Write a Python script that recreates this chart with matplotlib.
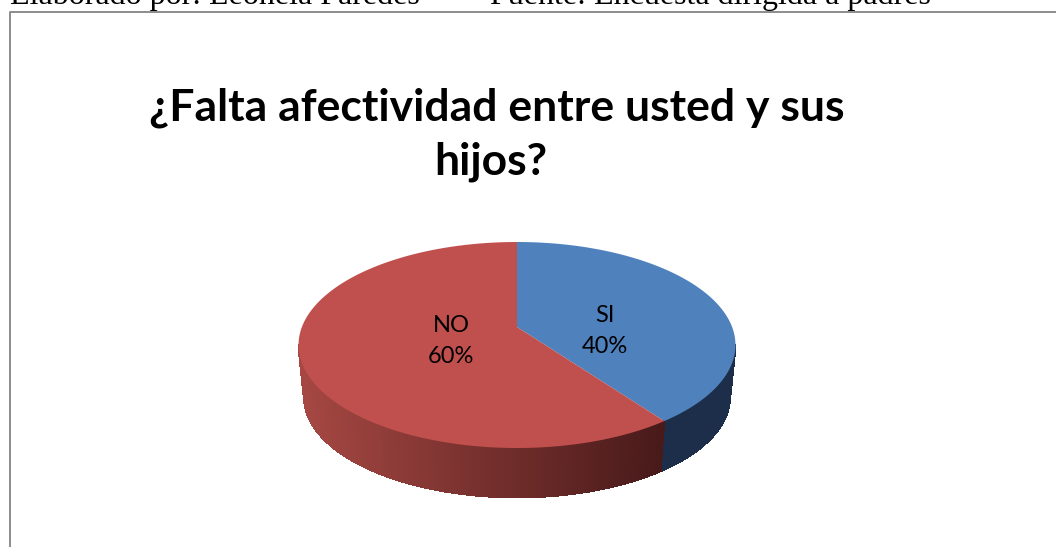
import numpy as np
import matplotlib
matplotlib.use('Agg')
import matplotlib.pyplot as plt

title_lines = ['¿Falta afectividad entre usted y sus', 'hijos?']
header_left = 'Elaborado por: Leonela Paredes'
header_right = 'Fuente: Encuesta dirigida a padres'
categories = ['SI', 'NO']
values = [40, 60]
top_colors = ['#4F81BD', '#C0504D']
side_dark = [(0.11, 0.18, 0.29), (0.28, 0.10, 0.10)]
side_light = [(0.12, 0.20, 0.31), (0.65, 0.28, 0.26)]

# the pie is tilted, so the apex sits above the middle of the ellipse
K = 0.1748
A = 215.1
B = 99.85
CX = 517
APEX_Y = 327
RIM_SCALE = 0.975
DEPTH = 52


def top_rim(theta):
    u = np.sin(theta)
    v = np.cos(theta)
    w = 1 + K * v
    return CX + A * u / w, APEX_Y - B * v / w


def low_rim(theta):
    x, y = top_rim(theta)
    return CX + (x - CX) * RIM_SCALE, 345 + (y - 345) * RIM_SCALE + DEPTH


fig = plt.figure(figsize=(10.56, 5.47), dpi=100)
ax = fig.add_axes([0, 0, 1, 1])
ax.set_xlim(0, 1056)
ax.set_ylim(547, 0)
ax.axis('off')

# frame, only top and left are in the crop
ax.plot([9.5, 9.5, 1056], [547, 12, 12], color='#8c8c8c', lw=1.4)

fractions = np.cumsum([0] + values) / sum(values)
starts = fractions[:-1] * 2 * np.pi
ends = fractions[1:] * 2 * np.pi

# side wall first, drawn as thin strips to get the shading
for i in range(len(values)):
    angles = np.linspace(starts[i], ends[i], int(values[i] * 6) + 2)
    for a, b in zip(angles[:-1], angles[1:]):
        # back of the wall is hidden anyway
        if np.cos((a + b) / 2) > -K:
            continue
        xa, ya = top_rim(a)
        xb, yb = top_rim(b)
        xc, yc = low_rim(b)
        xd, yd = low_rim(a)
        mix = np.clip((max(xa, xb) - 300) / 365, 0, 1)
        col = [side_light[i][k] * (1 - mix) + side_dark[i][k] * mix for k in range(3)]
        ax.fill([xa, xb, xc, xd], [ya, yb, yc, yd], color=col, lw=0.7,
                antialiased=False, zorder=2)

# top face
for i in range(len(values)):
    angles = np.linspace(starts[i], ends[i], 300)
    xs, ys = top_rim(angles)
    ax.fill(np.r_[CX, xs], np.r_[APEX_Y, ys], color=top_colors[i], lw=0, zorder=3)

# data labels
label_pos = [(605, 331), (451, 341)]
for i in range(len(values)):
    ax.text(label_pos[i][0], label_pos[i][1], categories[i] + '\n' + str(values[i]) + '%',
            ha='center', va='center', fontsize=17, family='Lato', color='black',
            linespacing=1.55, zorder=4)

ax.text(497, 120, title_lines[0], ha='center', va='baseline', fontsize=32, family='Lato',
        fontweight='bold', color='black')
ax.text(491, 175, title_lines[1], ha='center', va='baseline', fontsize=32, family='Lato',
        fontweight='bold', color='black')

ax.text(10, 4, header_left, ha='left', va='baseline', fontsize=23,
        family='Liberation Serif', color='black')
ax.text(490, 4, header_right, ha='left', va='baseline', fontsize=23,
        family='Liberation Serif', color='black')

fig.savefig('out.png', dpi=100)
